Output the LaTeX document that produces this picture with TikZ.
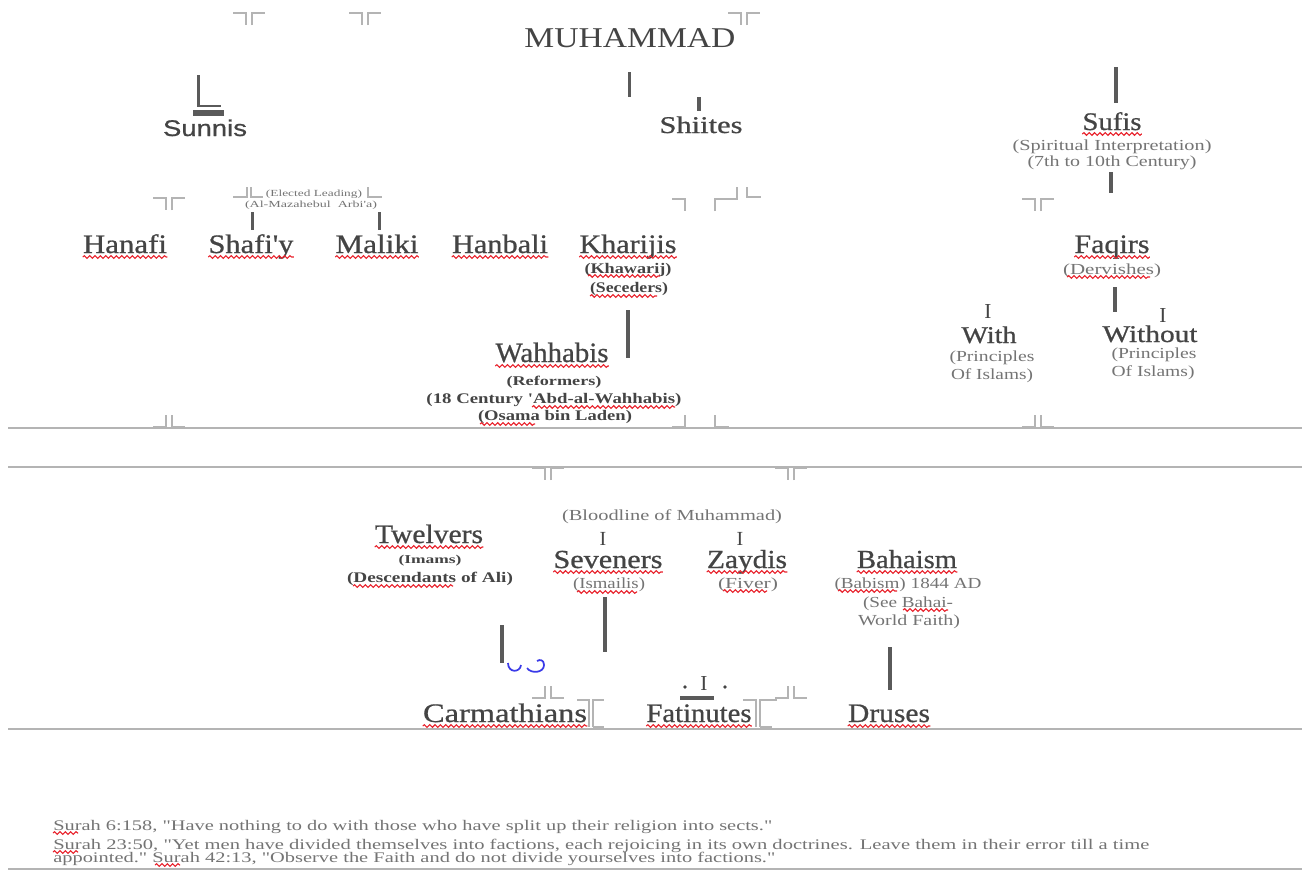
\documentclass[tikz,border=0pt]{standalone}
\usepackage{fontspec}
\setmainfont{Liberation Serif}[Ligatures=TeXOff]
\newfontfamily\lbf{Liberation Serif}[Ligatures=TeXOff, FakeBold=0.7]
\newfontfamily\sansf{Liberation Sans}[FakeBold=0.7]
\usetikzlibrary{decorations.pathmorphing}
\newlength\pxu \setlength\pxu{0.75pt}
\newcommand\fw[2]{\resizebox{#1\pxu}{\height}{#2}}
\newcommand\fs[1]{\fontsize{#1}{#1}\selectfont}
\definecolor{txt}{HTML}{444444}
\definecolor{subc}{HTML}{747474}
\definecolor{barc}{HTML}{5A5A5A}
\definecolor{markc}{HTML}{B4B4B4}
\definecolor{linec}{HTML}{B4B4B4}
\definecolor{spell}{HTML}{E8202A}
\definecolor{bluec}{HTML}{3A3AE8}
\newcommand\dmark[2]{%
  \draw[mk] ({#1-16},#2) -- ({#1-3},#2) -- ({#1-3},{#2+12});
  \draw[mk] ({#1+3},{#2+12}) -- ({#1+3},#2) -- ({#1+16},#2);}
\newcommand\umark[2]{%
  \draw[mk] ({#1-16},#2) -- ({#1-3},#2) -- ({#1-3},{#2-12});
  \draw[mk] ({#1+3},{#2-12}) -- ({#1+3},#2) -- ({#1+16},#2);}
\newcommand\wv[1]{\draw[wavy] ([yshift=-3pt]#1.base west) -- ([yshift=-3pt]#1.base east);}
\begin{document}
\begin{tikzpicture}[x=0.75pt,y=-0.75pt,
  lab/.style={inner sep=0, anchor=base, text=txt, font=\lbf\fs{20}},
  sub/.style={inner sep=0, anchor=base, text=subc, font=\fs{11.5}},
  bsub/.style={inner sep=0, anchor=base, text=txt, font=\bfseries\fs{11}},
  foot/.style={inner sep=0, anchor=base west, text=subc, font=\fs{11}},
  bar/.style={draw=barc, line width=2.25pt},
  mk/.style={draw=markc, line width=1.1pt},
  hl/.style={draw=linec, line width=1.5pt},
  wavy/.style={draw=spell, line width=0.8pt, decorate, decoration={snake, segment length=4pt, amplitude=1pt}},
  blu/.style={draw=bluec, line width=1.3pt}]
\useasboundingbox[fill=white] (0,0) rectangle (1302,871);

% ---------- upper section ----------
\node[lab, font=\fs{21.5}] (muh) at (630,47) {\fw{211}{MUHAMMAD}};
\node[lab, font=\sansf\fs{17}] (sunnis) at (205,136) {\fw{84}{Sunnis}};
\node[lab, font=\lbf\fs{18}] (shiites) at (701,133) {\fw{83}{Shiites}};
\node[lab, font=\lbf\fs{19}] (sufis) at (1112,130) {\fw{59}{Sufis}};
\node[sub] (spirit) at (1112,150) {\fw{199}{(Spiritual Interpretation)}};
\node[sub] (century) at (1112,166) {\fw{169}{(7th to 10th Century)}};
\node[lab] (faqirs) at (1112,253) {\fw{75}{Faqirs}};
\node[sub] (dervishes) at (1112,274) {\fw{98}{(Dervishes)}};
\node[lab, font=\fs{16}] (iwith) at (988,318) {I};
\node[lab, font=\lbf\fs{18}] (with) at (989,343) {\fw{55}{With}};
\node[sub] (pw1) at (992,361) {\fw{85}{(Principles}};
\node[sub] (pw2) at (992,379) {\fw{82}{Of Islams)}};
\node[lab, font=\fs{16}] (iwo) at (1163,322) {I};
\node[lab, font=\lbf\fs{18}] (without) at (1150,342) {\fw{95}{Without}};
\node[sub] (po1) at (1154,358) {\fw{85}{(Principles}};
\node[sub] (po2) at (1153,376) {\fw{83}{Of Islams)}};

\node[lab] (hanafi) at (125,253) {\fw{84}{Hanafi}};
\node[lab] (shafiy) at (251,253) {\fw{85}{Shafi'y}};
\node[lab] (maliki) at (377,253) {\fw{83}{Maliki}};
\node[lab] (hanbali) at (500,253) {\fw{96}{Hanbali}};
\node[lab] (kharijis) at (628,253) {\fw{97}{Kharijis}};
\node[bsub] (khawarij) at (628,273) {\fw{87}{(Khawarij)}};
\node[bsub] (seceders) at (629,292) {\fw{78}{(Seceders)}};
\node[lab, font=\lbf\fs{21}] (wahhabis) at (552,362) {\fw{113}{Wahhabis}};
\node[bsub, font=\bfseries\fs{10}] (reformers) at (554,385) {\fw{95}{(Reformers)}};
\node[bsub] (abd) at (554,403) {\fw{255}{(18 Century 'Abd-al-Wahhabis)}};
\node[bsub] (osama) at (555,420) {\fw{154}{(Osama bin Laden)}};
\node[sub, font=\fs{7}] (elected) at (314,196) {\fw{96}{(Elected Leading)}};
\node[sub, font=\fs{7}] (mazaheb) at (311,207) {\fw{132}{(Al-Mazahebul\ \ Arbi'a)}};

% bars upper
\draw[bar] (629,72) -- (629,97);
\draw[bar] (198,75) -- (198,107);
\draw[draw=barc, line width=1.5pt] (197,106) -- (221,106);
\draw[draw=barc, line width=4.5pt] (193,113) -- (224,113);
\draw[draw=barc, line width=3pt] (699,97) -- (699,111);
\draw[draw=barc, line width=3pt] (1116,67) -- (1116,103);
\draw[draw=barc, line width=3pt] (1111,172) -- (1111,193);
\draw[draw=barc, line width=3pt] (1115,287) -- (1115,312);
\draw[bar] (252,212) -- (252,230);
\draw[bar] (379,212) -- (379,230);
\draw[draw=barc, line width=3.5pt] (628,310) -- (628,358);

% marks upper
\dmark{249}{13}
\dmark{365}{13}
\dmark{744}{13}
\dmark{169}{198}
\dmark{1038}{199}
\umark{169}{427}
\umark{1038}{427}
\draw[mk] (233,197) -- (247,197) -- (247,187);
\draw[mk] (251,187) -- (251,197) -- (263,197);
\draw[mk] (368,187) -- (368,197) -- (382,197);
\draw[mk] (672,199) -- (685,199) -- (685,211);
\draw[mk] (715,211) -- (715,199) -- (737,199) -- (737,187);
\draw[mk] (747,187) -- (747,197) -- (761,197);
\draw[mk] (672,427) -- (685,427) -- (685,415);
\draw[mk] (715,415) -- (715,427) -- (729,427);

% horizontal rules
\draw[hl] (8,428) -- (1302,428);
\draw[hl] (8,467) -- (1302,467);
\draw[hl] (8,729) -- (1302,729);
\draw[hl] (8,869) -- (1302,869);

% ---------- lower section ----------
\node[sub] (blood) at (672,520) {\fw{220}{(Bloodline of Muhammad)}};
\node[lab, font=\fs{15}] (i7) at (603,545) {I};
\node[lab, font=\fs{15}] (i5) at (740,545) {I};
\node[lab] (twelvers) at (429,543) {\fw{108}{Twelvers}};
\node[bsub, font=\bfseries\fs{9}] (imams) at (430,563) {\fw{63}{(Imams)}};
\node[bsub] (desc) at (430,582) {\fw{166}{(Descendants of Ali)}};
\node[lab, font=\lbf\fs{19.5}] (seveners) at (608,568) {\fw{109}{Seveners}};
\node[sub] (ismailis) at (609,588) {\fw{72}{(Ismailis)}};
\node[lab, font=\lbf\fs{19.5}] (zaydis) at (747,568) {\fw{80}{Zaydis}};
\node[sub] (fiver) at (748,588) {\fw{60}{(Fiver)}};
\node[lab, font=\lbf\fs{19.5}] (bahaism) at (907,568) {\fw{100}{Bahaism}};
\node[sub] (babism) at (908,588) {\fw{147}{(Babism) 1844 AD}};
\node[sub] (seebahai) at (908,607) {\fw{90}{(See Bahai-}};
\node[sub] (world) at (909,625) {\fw{102}{World Faith)}};
\node[lab] (carm) at (505,722) {\fw{164}{Carmathians}};
\node[lab] (fatin) at (699,722) {\fw{105}{Fatinutes}};
\node[lab] (druses) at (889,722) {\fw{82}{Druses}};
\node[lab, font=\fs{16}] (fI) at (704,690) {I};
\fill[txt] (685,687) circle (1.8);
\fill[txt] (725,687) circle (1.8);
\draw[draw=barc, line width=3pt] (680,698) -- (714,698);

% bars lower
\draw[draw=barc, line width=3pt] (605,597) -- (605,652);
\draw[draw=barc, line width=3pt] (502,625) -- (502,663);
\draw[draw=barc, line width=3pt] (890,647) -- (890,690);

% blue squiggles
\draw[blu] (508,663) .. controls (508,673) and (520,673) .. (521,665);
\draw[blu] (527,668) .. controls (531,674) and (544,673) .. (544,665) .. controls (544,660) and (540,659) .. (537,661);

% marks lower
\dmark{548}{468}
\dmark{791}{468}
\umark{548}{698}
\umark{791}{698}
\draw[mk] (577,700) -- (589,700) -- (589,727);
\draw[mk] (593,727) -- (593,700) -- (604,700);
\draw[mk] (593,727) -- (604,727);
\draw[mk] (743,700) -- (756,700) -- (756,727);
\draw[mk] (760,727) -- (760,700) -- (776,700) -- (776,698);
\draw[mk] (760,727) -- (772,727);

% footer
\node[foot] (f1) at (53,830) {\fw{719}{Surah 6:158, "Have nothing to do with those who have split up their religion into sects."}};
\node[foot] (f2) at (53,849) {\fw{1096}{Surah 23:50, "Yet men have divided themselves into factions, each rejoicing in its own doctrines. Leave them in their error till a time}};
\node[foot] (f3) at (53,862) {\fw{722}{appointed." Surah 42:13, "Observe the Faith and do not divide yourselves into factions."}};

% spell-check underlines
\wv{sufis} \wv{faqirs} \wv{hanafi} \wv{shafiy} \wv{maliki} \wv{hanbali}
\wv{kharijis} \wv{wahhabis} \wv{twelvers} \wv{seveners} \wv{zaydis}
\wv{bahaism} \wv{carm} \wv{fatin} \wv{druses}
\draw[wavy] (1067,277) -- (1150,277);
\draw[wavy] (588,276) -- (660,276);
\draw[wavy] (590,296) -- (657,296);
\draw[wavy] (532,407) -- (675,407);
\draw[wavy] (480,424) -- (535,424);
\draw[wavy] (353,586) -- (453,586);
\draw[wavy] (577,592) -- (637,592);
\draw[wavy] (723,591) -- (767,591);
\draw[wavy] (838,591) -- (897,591);
\draw[wavy] (903,610) -- (948,610);
\draw[wavy] (53,833) -- (78,833);
\draw[wavy] (53,852) -- (78,852);
\draw[wavy] (155,865) -- (180,865);
\end{tikzpicture}
\end{document}
